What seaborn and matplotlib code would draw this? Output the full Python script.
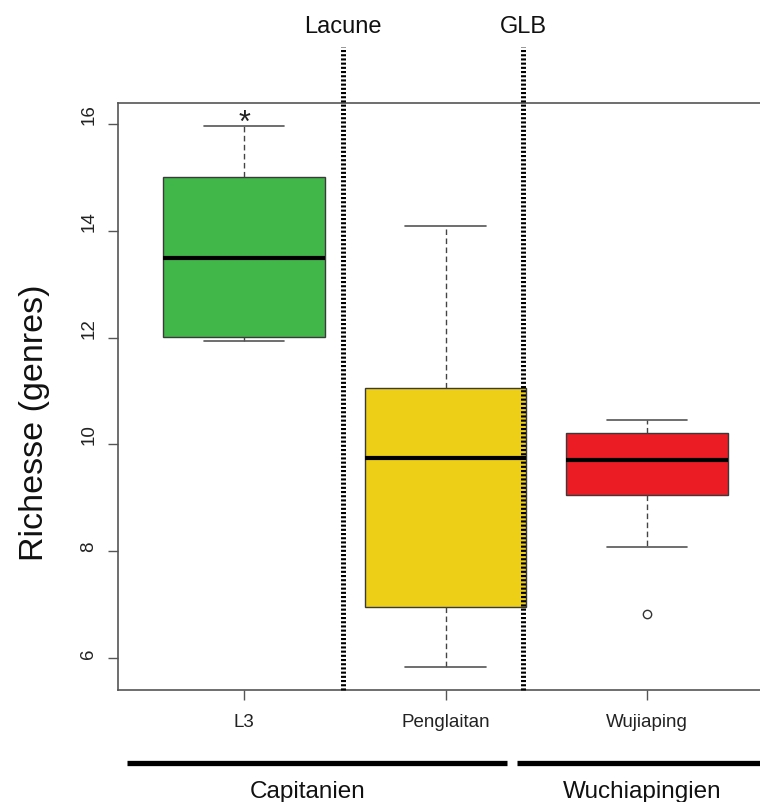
import numpy as np
import pandas as pd
import matplotlib
matplotlib.use("Agg")
import matplotlib.pyplot as plt
import matplotlib.transforms as mtransforms
import seaborn as sns

# ---- data ----
sites = ["L3", "Penglaitan", "Wujiaping"]
box_colors = ["#41B649", "#EDCF17", "#EC1C24"]
l3_values = [11.94, 12.02, 13.48, 15.00, 15.96]
penglaitan_values = [5.83, 6.96, 9.74, 11.06, 14.08]
wujiaping_values = [6.82, 8.08, 9.05, 9.05, 9.71, 10.22, 10.22, 10.46, 10.46]
yticks = [6, 8, 10, 12, 14, 16]
boundary_labels = ["Lacune", "GLB"]
boundary_x = [0.491, 1.385]
stage_labels = ["Capitanien", "Wuchiapingien"]
stage_spans = [(-0.581, 1.305), (1.355, 2.70)]
stage_label_x = [0.29, 0.80]
significance_mark = "*"
significance_y = 15.87

df = pd.DataFrame({
    "site": ["L3"] * len(l3_values) + ["Penglaitan"] * len(penglaitan_values)
            + ["Wujiaping"] * len(wujiaping_values),
    "richness": l3_values + penglaitan_values + wujiaping_values,
})

sns.set_style("ticks")
plt.rcParams["font.family"] = ["Liberation Sans", "DejaVu Sans"]

fig = plt.figure(figsize=(7.6, 8.03), dpi=100)
ax = fig.add_axes([118.3 / 760, 1 - 690.7 / 803, 654.5 / 760, 586.7 / 803])

edge = "#3a3a3a"
sns.boxplot(
    data=df, x="site", y="richness", hue="site", order=sites, hue_order=sites,
    palette=box_colors, saturation=1, width=0.8, linewidth=1.0, linecolor=edge,
    legend=False, ax=ax,
    whiskerprops=dict(linestyle=(0, (4, 2.5)), color="#444", linewidth=1.0),
    capprops=dict(color="#555", linewidth=1.2),
    medianprops=dict(color="black", linewidth=3.0),
    flierprops=dict(marker="o", markersize=6, markerfacecolor="none",
                    markeredgecolor="#333", markeredgewidth=1.0),
)

ax.set_xlim(-0.624, 2.624)
ax.set_ylim(5.41, 16.39)
ax.set_yticks(yticks)
ax.set_yticklabels([str(v) for v in yticks])
ax.set_xlabel("")
ax.set_ylabel("Richesse (genres)", fontsize=24.5, color="#111")
ax.yaxis.set_label_coords(-0.1045, 0.456)

for s in ax.spines.values():
    s.set_color("#555")
    s.set_linewidth(1.2)

ax.tick_params(axis="both", direction="out", length=7.5, width=1.0, color="#555",
               labelsize=13.5, labelcolor="#222")
ax.tick_params(axis="y", pad=7.5, labelrotation=90)
ax.tick_params(axis="x", pad=9.0)
plt.setp(ax.get_yticklabels(), va="bottom")

# boundary dotted lines with labels
trans = mtransforms.blended_transform_factory(ax.transData, ax.transAxes)
for xb, lab in zip(boundary_x, boundary_labels):
    ax.plot([xb, xb], [0, 1.0963], transform=trans, color="black", lw=3.6,
            linestyle=(0, (0.42, 0.42)), solid_capstyle="butt",
            dash_capstyle="butt", clip_on=False, zorder=5)
    ax.text(xb, 1.121, lab, transform=trans, ha="center", va="baseline",
            fontsize=17, color="#111")

# significance asterisk
ax.text(0, significance_y, significance_mark, ha="center", va="baseline",
        fontsize=22, color="#222")

# stage bars
for (x0, x1), lab, lx in zip(stage_spans, stage_labels, stage_label_x):
    ax.plot([x0, x1], [-0.125, -0.125], transform=trans, color="black", lw=3.8,
            solid_capstyle="butt", clip_on=False)
    ax.text(lx, -0.183, lab, transform=ax.transAxes, ha="center", va="baseline",
            fontsize=17.5, color="#111")

fig.savefig("out.png", dpi=100)
